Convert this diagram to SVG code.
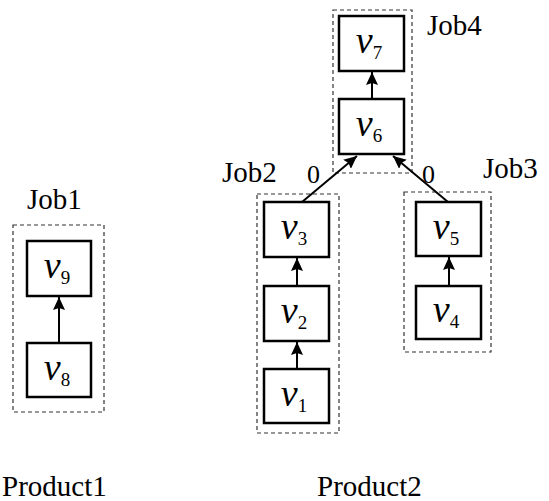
<svg xmlns="http://www.w3.org/2000/svg" width="549" height="501" viewBox="0 0 549 501">
<style>
text{font-family:Liberation Serif,Tinos,Times New Roman,Times,DejaVu Serif,Noto Serif,FreeSerif,serif}
.job{fill:none;stroke:#333;stroke-width:1.2;stroke-dasharray:4 3}
.box{fill:#fff;stroke:#000;stroke-width:2.5}
.lbl{font-size:29px;fill:#000}
.w{font-size:26px;fill:#000}
.v{font-size:38px;font-style:italic;fill:#000;text-anchor:middle}
.v tspan{font-size:19px;font-style:normal}
.e{stroke:#000;stroke-width:2;fill:none;marker-end:url(#ah)}
</style>
<defs>
<marker id="ah" markerUnits="userSpaceOnUse" markerWidth="14" markerHeight="12" refX="13" refY="6" orient="auto" viewBox="0 0 14 12">
<path d="M0,0 L13,6 L0,12 L2,6 z" fill="#000"/>
</marker>
</defs>
<rect width="549" height="501" fill="#fff"/>
<g id="job1"><rect class="job" x="13" y="225" width="91" height="187"/><text class="lbl" x="27" y="209">Job1</text></g>
<g id="job2"><rect class="job" x="257" y="194" width="82" height="239"/><text class="lbl" x="222" y="182">Job2</text></g>
<g id="job3"><rect class="job" x="404" y="192" width="87" height="160"/><text class="lbl" x="483" y="178">Job3</text></g>
<g id="job4"><rect class="job" x="333" y="10" width="79" height="163"/><text class="lbl" x="427" y="35">Job4</text></g>
<g id="connectors">
<line class="e" x1="59" y1="343" x2="59" y2="297"/>
<line class="e" x1="297" y1="369" x2="297" y2="342"/>
<line class="e" x1="297" y1="286" x2="297" y2="258"/>
<line class="e" x1="449" y1="286" x2="449" y2="257"/>
<line class="e" x1="372" y1="99" x2="372" y2="72"/>
<line class="e" x1="302" y1="202" x2="357" y2="156"/>
<line class="e" x1="448" y1="202" x2="393" y2="156"/>
<text class="w" x="307" y="183">0</text>
<text class="w" x="422" y="183">0</text>
</g>
<g id="v9"><rect class="box" x="27" y="241" width="64" height="55"/><text class="v" x="57" y="278">v<tspan dy="6">9</tspan></text></g>
<g id="v8"><rect class="box" x="27" y="343" width="64" height="54"/><text class="v" x="57" y="380">v<tspan dy="6">8</tspan></text></g>
<g id="v3"><rect class="box" x="264" y="202" width="65" height="55"/><text class="v" x="294" y="239">v<tspan dy="6">3</tspan></text></g>
<g id="v2"><rect class="box" x="264" y="286" width="65" height="55"/><text class="v" x="294" y="323">v<tspan dy="6">2</tspan></text></g>
<g id="v1"><rect class="box" x="264" y="369" width="65" height="54"/><text class="v" x="294" y="406">v<tspan dy="6">1</tspan></text></g>
<g id="v5"><rect class="box" x="416" y="202" width="65" height="54"/><text class="v" x="446" y="239">v<tspan dy="6">5</tspan></text></g>
<g id="v4"><rect class="box" x="416" y="286" width="65" height="53"/><text class="v" x="446" y="322">v<tspan dy="6">4</tspan></text></g>
<g id="v7"><rect class="box" x="339" y="16" width="65" height="55"/><text class="v" x="369" y="53">v<tspan dy="6">7</tspan></text></g>
<g id="v6"><rect class="box" x="339" y="99" width="65" height="55"/><text class="v" x="369" y="136">v<tspan dy="6">6</tspan></text></g>
<text class="lbl" x="2" y="496">Product1</text>
<text class="lbl" x="317" y="496">Product2</text>
</svg>
